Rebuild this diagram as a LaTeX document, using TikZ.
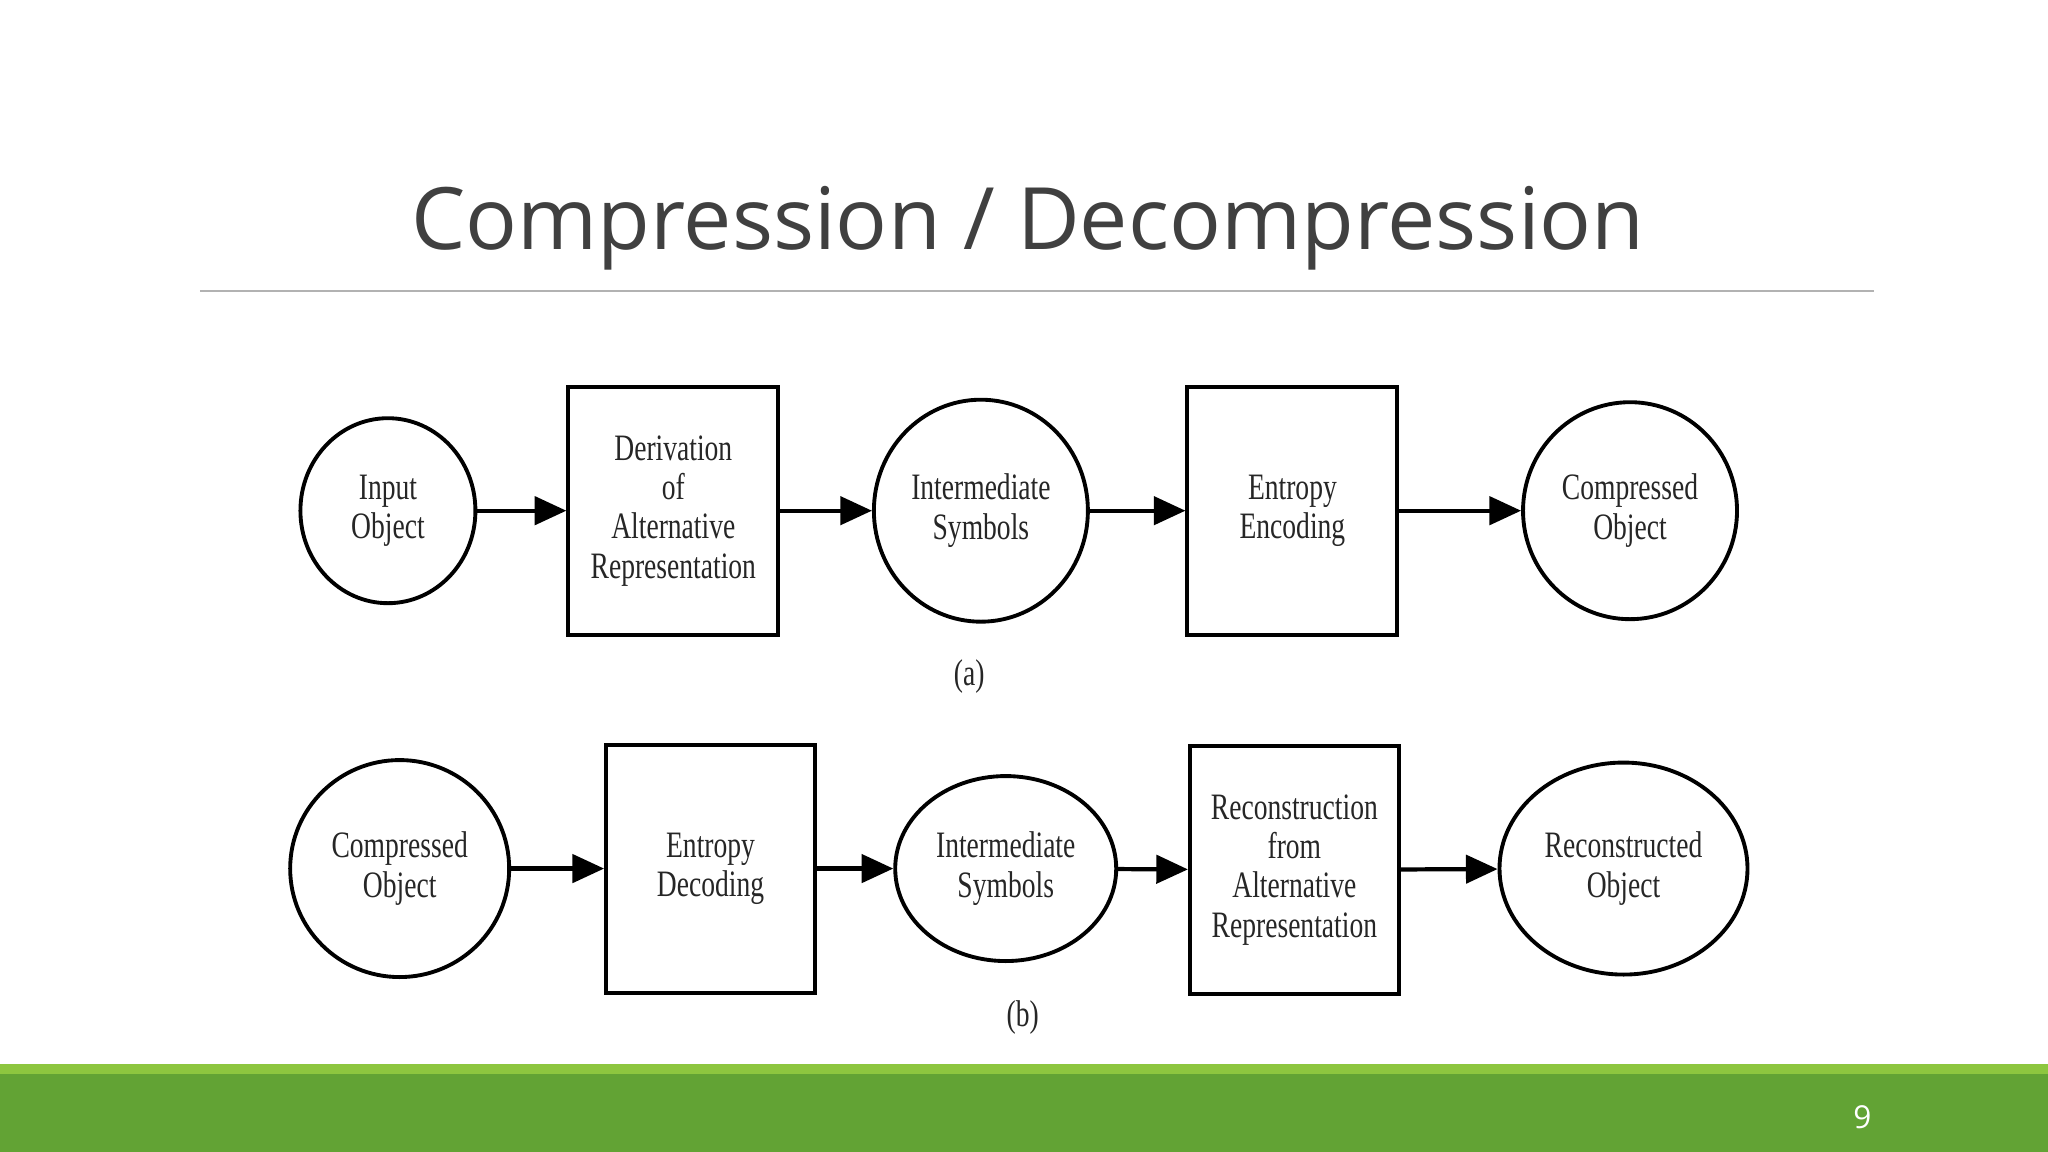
\documentclass[tikz,border=0pt]{standalone}
\usepackage{fontspec}
\setmainfont{Open Sans}
\newfontfamily\cond{Liberation Serif}[FakeStretch=0.74]
\usetikzlibrary{shapes.geometric,arrows.meta}
\definecolor{titlegray}{HTML}{404040}
\definecolor{lgreen}{HTML}{8DC63F}
\definecolor{dgreen}{HTML}{62A334}
\begin{document}
\begin{tikzpicture}[x=0.013061cm,y=-0.013061cm,
  lab/.style={font=\cond\fontsize{10.6}{11.2}\selectfont, align=center, text=black!85},
  ell/.style={ellipse, draw, line width=1.1pt, inner sep=0pt, lab},
  box/.style={rectangle, draw, line width=1.1pt, inner sep=0pt, lab},
  arr/.style={line width=1.2pt, -{Triangle[length=9pt,width=8pt]}}]
\useasboundingbox (0,0) rectangle (1568,882);
\fill[lgreen] (0,815) rectangle (1568,823);
\fill[dgreen] (0,822) rectangle (1568,882);
\node[text=white, font=\fontsize{9}{10}\selectfont] (pg) at (1426,855) {9};
\node[text=titlegray, font=\fontsize{24.5}{28}\selectfont] (title) at (787,175) {Compression / Decompression};
\draw[black!30, line width=0.6pt] (153,223) -- (1435,223);
% row a
\node[ell, minimum width=1.75cm, minimum height=1.85cm] (a1) at (297,391) {Input\\Object};
\node[box, minimum width=2.1cm, minimum height=2.48cm] (a2) at (515.5,391) {Derivation\\of\\Alternative\\Representation};
\node[ell, minimum width=2.14cm, minimum height=2.22cm] (a3) at (751,391) {Intermediate\\Symbols};
\node[box, minimum width=2.1cm, minimum height=2.48cm] (a4) at (989.5,391) {Entropy\\Encoding};
\node[ell, minimum width=2.14cm, minimum height=2.17cm] (a5) at (1248,391) {Compressed\\Object};
\node[lab] (la) at (742,518) {(a)};
\draw[arr] (a1) -- (a2);
\draw[arr] (a2) -- (a3);
\draw[arr] (a3) -- (a4);
\draw[arr] (a4) -- (a5);
% row b
\node[ell, minimum width=2.19cm, minimum height=2.17cm] (b1) at (306,665) {Compressed\\Object};
\node[box, minimum width=2.09cm, minimum height=2.48cm] (b2) at (544,665) {Entropy\\Decoding};
\node[ell, minimum width=2.21cm, minimum height=1.85cm] (b3) at (770,665) {Intermediate\\Symbols};
\node[box, minimum width=2.09cm, minimum height=2.48cm] (b4) at (991,666) {Reconstruction\\from\\Alternative\\Representation};
\node[ell, minimum width=2.48cm, minimum height=2.12cm] (b5) at (1243,665) {Reconstructed\\Object};
\node[lab] (lb) at (783,779) {(b)};
\draw[arr] (b1) -- (b2);
\draw[arr] (b2) -- (b3);
\draw[arr] (b3) -- (b4);
\draw[arr] (b4) -- (b5);
\end{tikzpicture}
\end{document}
